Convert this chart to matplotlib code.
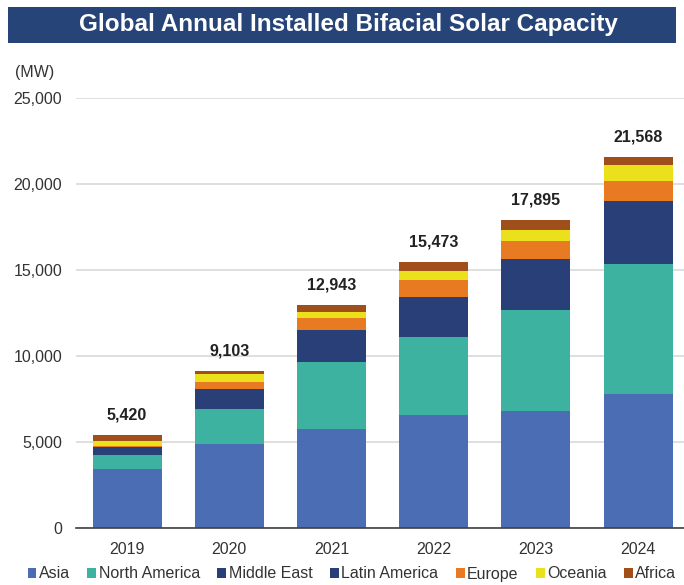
import matplotlib
matplotlib.use("Agg")
import matplotlib.pyplot as plt
from matplotlib.patches import Rectangle
from matplotlib.ticker import FuncFormatter
import numpy as np

plt.rcParams['font.family'] = ['Liberation Sans', 'DejaVu Sans']

years = ["2019", "2020", "2021", "2022", "2023", "2024"]
totals = [5420, 9103, 12943, 15473, 17895, 21568]
asia = [3450, 4880, 5770, 6595, 6830, 7790]
north_america = [790, 2060, 3880, 4535, 5873, 7576]
middle_east = [320, 800, 1300, 1600, 2050, 2500]
latin_america = [130, 370, 580, 685, 897, 1122]
europe = [60, 385, 700, 988, 1064, 1203]
oceania = [300, 450, 330, 523, 640, 931]
africa = [370, 158, 383, 547, 541, 446]

series_names = ["Asia", "North America", "Middle East", "Latin America", "Europe", "Oceania", "Africa"]
series = [asia, north_america, middle_east, latin_america, europe, oceania, africa]
colors = ["#4a6db4", "#3db2a1", "#283f78", "#283f78", "#e87b22", "#ebe01c", "#a04f1a"]

W, H = 684, 585
fig = plt.figure(figsize=(W / 100, H / 100), dpi=100)

# title banner
fig.patches.append(Rectangle((8 / W, 1 - 43 / H), (676 - 8) / W, 36 / H,
                             transform=fig.transFigure, facecolor="#264478",
                             edgecolor="none", zorder=0))
fig.text(348 / W, 1 - 25 / H, "Global Annual Installed Bifacial Solar Capacity",
         color="white", fontsize=17.5, fontweight="bold", ha="center", va="center")

left, right = 76, 684
top, bottom = 98, 528
ax = fig.add_axes([left / W, (H - bottom) / H, (right - left) / W, (bottom - top) / H])

x = np.arange(len(years))
base = np.zeros(len(years))
handles = []
for name, vals, c in zip(series_names, series, colors):
    b = ax.bar(x, vals, 0.675, bottom=base, color=c, label=name, zorder=3,
               edgecolor="none", linewidth=0)
    handles.append(b)
    base = base + np.array(vals)

for xi, t, top_v in zip(x, totals, base):
    ax.annotate(f"{t:,}", (xi, top_v), xytext=(0, 9), textcoords="offset points",
                ha="center", va="bottom", fontsize=11.5, fontweight="bold",
                color="#222222")

ax.set_xlim(-0.5, 5.45)
ax.set_ylim(0, 25000)
ax.set_yticks(range(0, 25001, 5000))
ax.yaxis.set_major_formatter(FuncFormatter(lambda v, p: f"{int(v):,}"))
ax.set_xticks(x)
ax.set_xticklabels(years)
ax.tick_params(axis="both", length=0, labelsize=11.5, colors="#333333")
ax.tick_params(axis="y", pad=10)
ax.tick_params(axis="x", pad=10)
ax.grid(axis="y", color="#d9d9d9", linewidth=1.2, zorder=0)
for s in ["top", "right", "left"]:
    ax.spines[s].set_visible(False)
ax.spines["bottom"].set_color("#404040")
ax.spines["bottom"].set_linewidth(1.2)
ax.spines["bottom"].set_zorder(4)

fig.text(35 / W, 1 - 72 / H, "(MW)", fontsize=11.5, ha="center", va="center",
         color="#333333")

leg = fig.legend(handles, series_names, loc="center", bbox_to_anchor=(352 / W, 1 - 574 / H),
                 ncol=7, frameon=False, fontsize=11.5, handlelength=0.55,
                 handleheight=0.55, handletextpad=0.15, columnspacing=1.1,
                 borderpad=0)
for t in leg.get_texts():
    t.set_color("#333333")

fig.savefig("out.png", dpi=100)
